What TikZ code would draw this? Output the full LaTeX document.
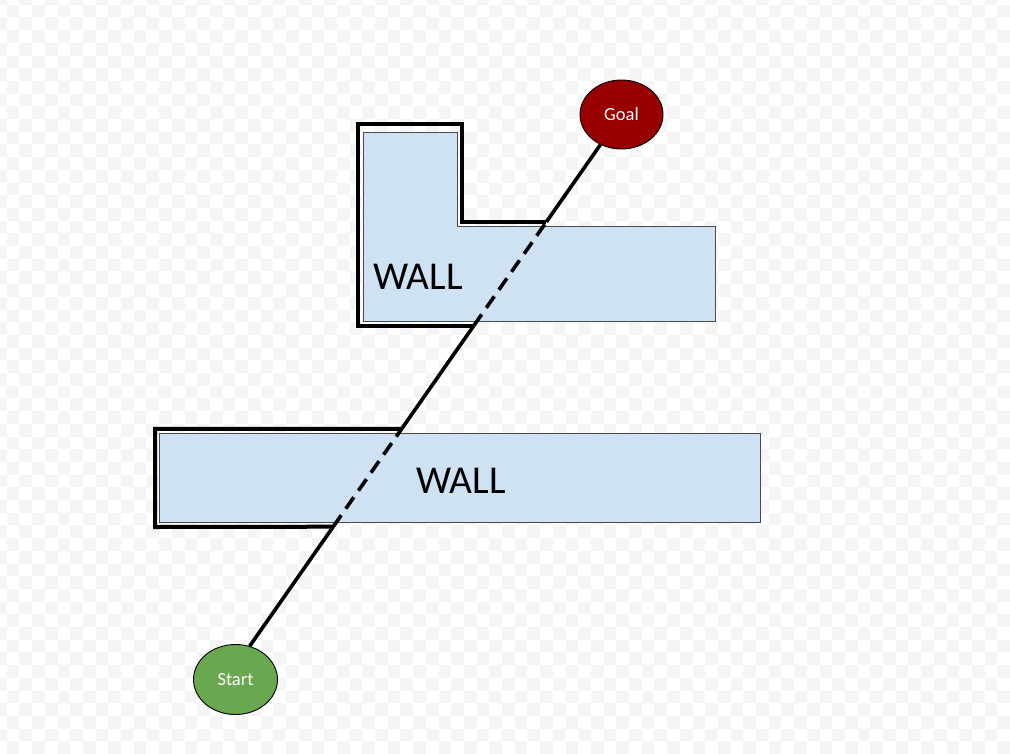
\documentclass[tikz,border=0pt]{standalone}
\usepackage{fontspec}
\setmainfont{Carlito}
\usetikzlibrary{shapes.geometric,calc}
\definecolor{wallfill}{HTML}{CFE2F3}
\definecolor{wallline}{HTML}{4A4A4A}
\definecolor{goalred}{HTML}{990000}
\definecolor{startgreen}{HTML}{6AA84F}
\definecolor{checker}{HTML}{F5F5F5}
\tikzset{
  wall/.style={fill=wallfill,draw=wallline,line width=1pt},
  outline/.style={draw=black,line width=4pt,line join=miter},
  route/.style={draw=black,line width=3.6pt},
  routedash/.style={draw=black,line width=3.6pt,dash pattern=on 14pt off 8pt},
  endpoint/.style={ellipse,draw=black,line width=0.9pt,inner sep=0pt,
    minimum width=83pt,minimum height=69pt,text=white,font=\fontsize{18.5}{22}\selectfont},
  walllabel/.style={inner sep=0pt,font=\fontsize{39.5}{46}\selectfont,text=black}
}
\begin{document}
\begin{tikzpicture}[x=1pt,y=-1pt]
\useasboundingbox (0,0) rectangle (1010,753);
\fill[white] (0,0) rectangle (1010,753);
% faint checkerboard background
\begin{scope}
\clip (0,0) rectangle (1010,753);
\foreach \j in {0,...,60}{
  \pgfmathsetmacro\off{mod(\j,2)}
  \foreach \i in {0,2,...,82}{
    \fill[checker] ({(\i+\off)*12.7-6},{\j*12.7-8}) rectangle ++(12.7,12.7);
  }
}
\end{scope}
% walls
\draw[wall] (363,132) -- (457,132) -- (457,226) -- (715,226) -- (715,321) -- (363,321) -- cycle;
\draw[wall] (159,433) rectangle (760,522);
\node[walllabel] (wallA) at (418,277) {WALL};
\node[walllabel] (wallB) at (461,481) {WALL};
% start and goal
\node[endpoint,fill=goalred] (goal) at (621.5,114.5) {Goal};
\node[endpoint,fill=startgreen,minimum width=84pt,minimum height=70pt] (start) at (235.5,679.5) {Start};
% points where the route meets the wall outlines
\coordinate (c1) at ($(start.67)!0.2246!(goal.center)$);
\coordinate (c2) at ($(start.67)!0.4088!(goal.center)$);
\coordinate (c3) at ($(start.67)!0.6024!(goal.center)$);
\coordinate (c4) at ($(start.67)!0.7979!(goal.center)$);
% thick outlines
\draw[outline] (c3) -| (358,124) -- (462,124) |- (c4);
\draw[outline] (c2) -| (155,527) -- (c1);
% route
\draw[route] (start.67) -- (c1);
\draw[routedash] (c1) -- (c2);
\draw[route] (c2) -- (c3);
\draw[routedash] (c3) -- (c4);
\draw[route] (c4) -- (goal);
\end{tikzpicture}
\end{document}
